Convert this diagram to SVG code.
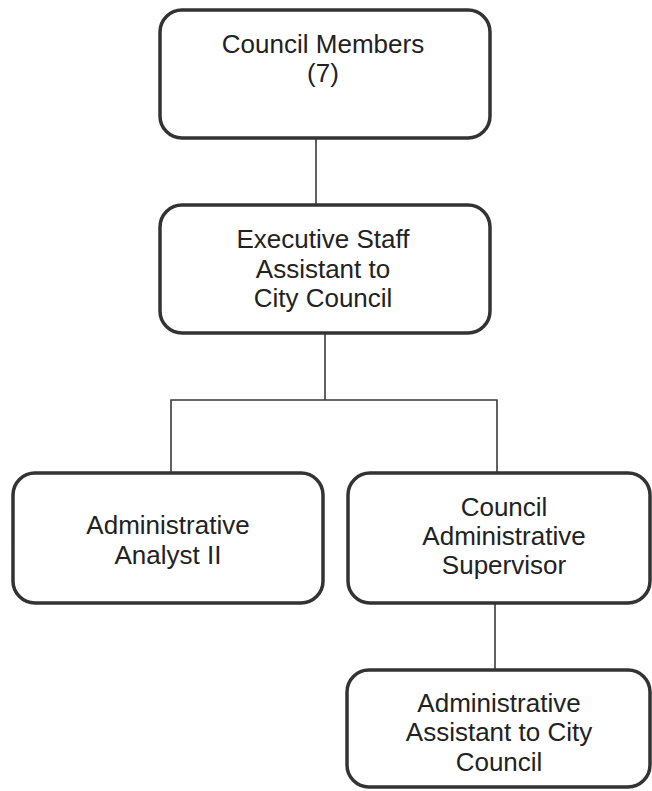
<svg xmlns="http://www.w3.org/2000/svg" width="652" height="791" viewBox="0 0 652 791">
  <style>
    .box { fill: #ffffff; stroke: #333333; stroke-width: 3.5; }
    .link { fill: none; stroke: #3a3a3a; stroke-width: 1.6; }
    .label { font-family: "Liberation Sans", Arial, sans-serif; font-size: 26px; fill: #222222; text-anchor: middle; }
  </style>
  <rect width="652" height="791" fill="#ffffff"/>

  <!-- reporting lines -->
  <g id="connectors">
    <line class="link" x1="316" y1="138" x2="316" y2="205"/>
    <line class="link" x1="325" y1="333" x2="325" y2="400"/>
    <polyline class="link" points="171,473 171,400 497,400 497,473"/>
    <line class="link" x1="495" y1="603" x2="495" y2="670"/>
  </g>

  <g id="council-members">
    <rect class="box" x="160" y="10" width="330" height="128" rx="22"/>
    <text class="label" x="323" y="53">Council Members</text>
    <text class="label" x="323" y="82">(7)</text>
  </g>

  <g id="executive-staff-assistant">
    <rect class="box" x="160" y="205" width="330" height="128" rx="22"/>
    <text class="label" x="323" y="248">Executive Staff</text>
    <text class="label" x="323" y="278">Assistant to</text>
    <text class="label" x="323" y="307">City Council</text>
  </g>

  <g id="administrative-analyst">
    <rect class="box" x="13" y="473" width="310" height="130" rx="22"/>
    <text class="label" x="168" y="534">Administrative</text>
    <text class="label" x="168" y="564">Analyst II</text>
  </g>

  <g id="council-admin-supervisor">
    <rect class="box" x="348" y="473" width="302" height="130" rx="22"/>
    <text class="label" x="504" y="516">Council</text>
    <text class="label" x="504" y="545">Administrative</text>
    <text class="label" x="504" y="574">Supervisor</text>
  </g>

  <g id="administrative-assistant">
    <rect class="box" x="347" y="670" width="303" height="117" rx="22"/>
    <text class="label" x="499" y="712">Administrative</text>
    <text class="label" x="499" y="741">Assistant to City</text>
    <text class="label" x="499" y="771">Council</text>
  </g>
</svg>
